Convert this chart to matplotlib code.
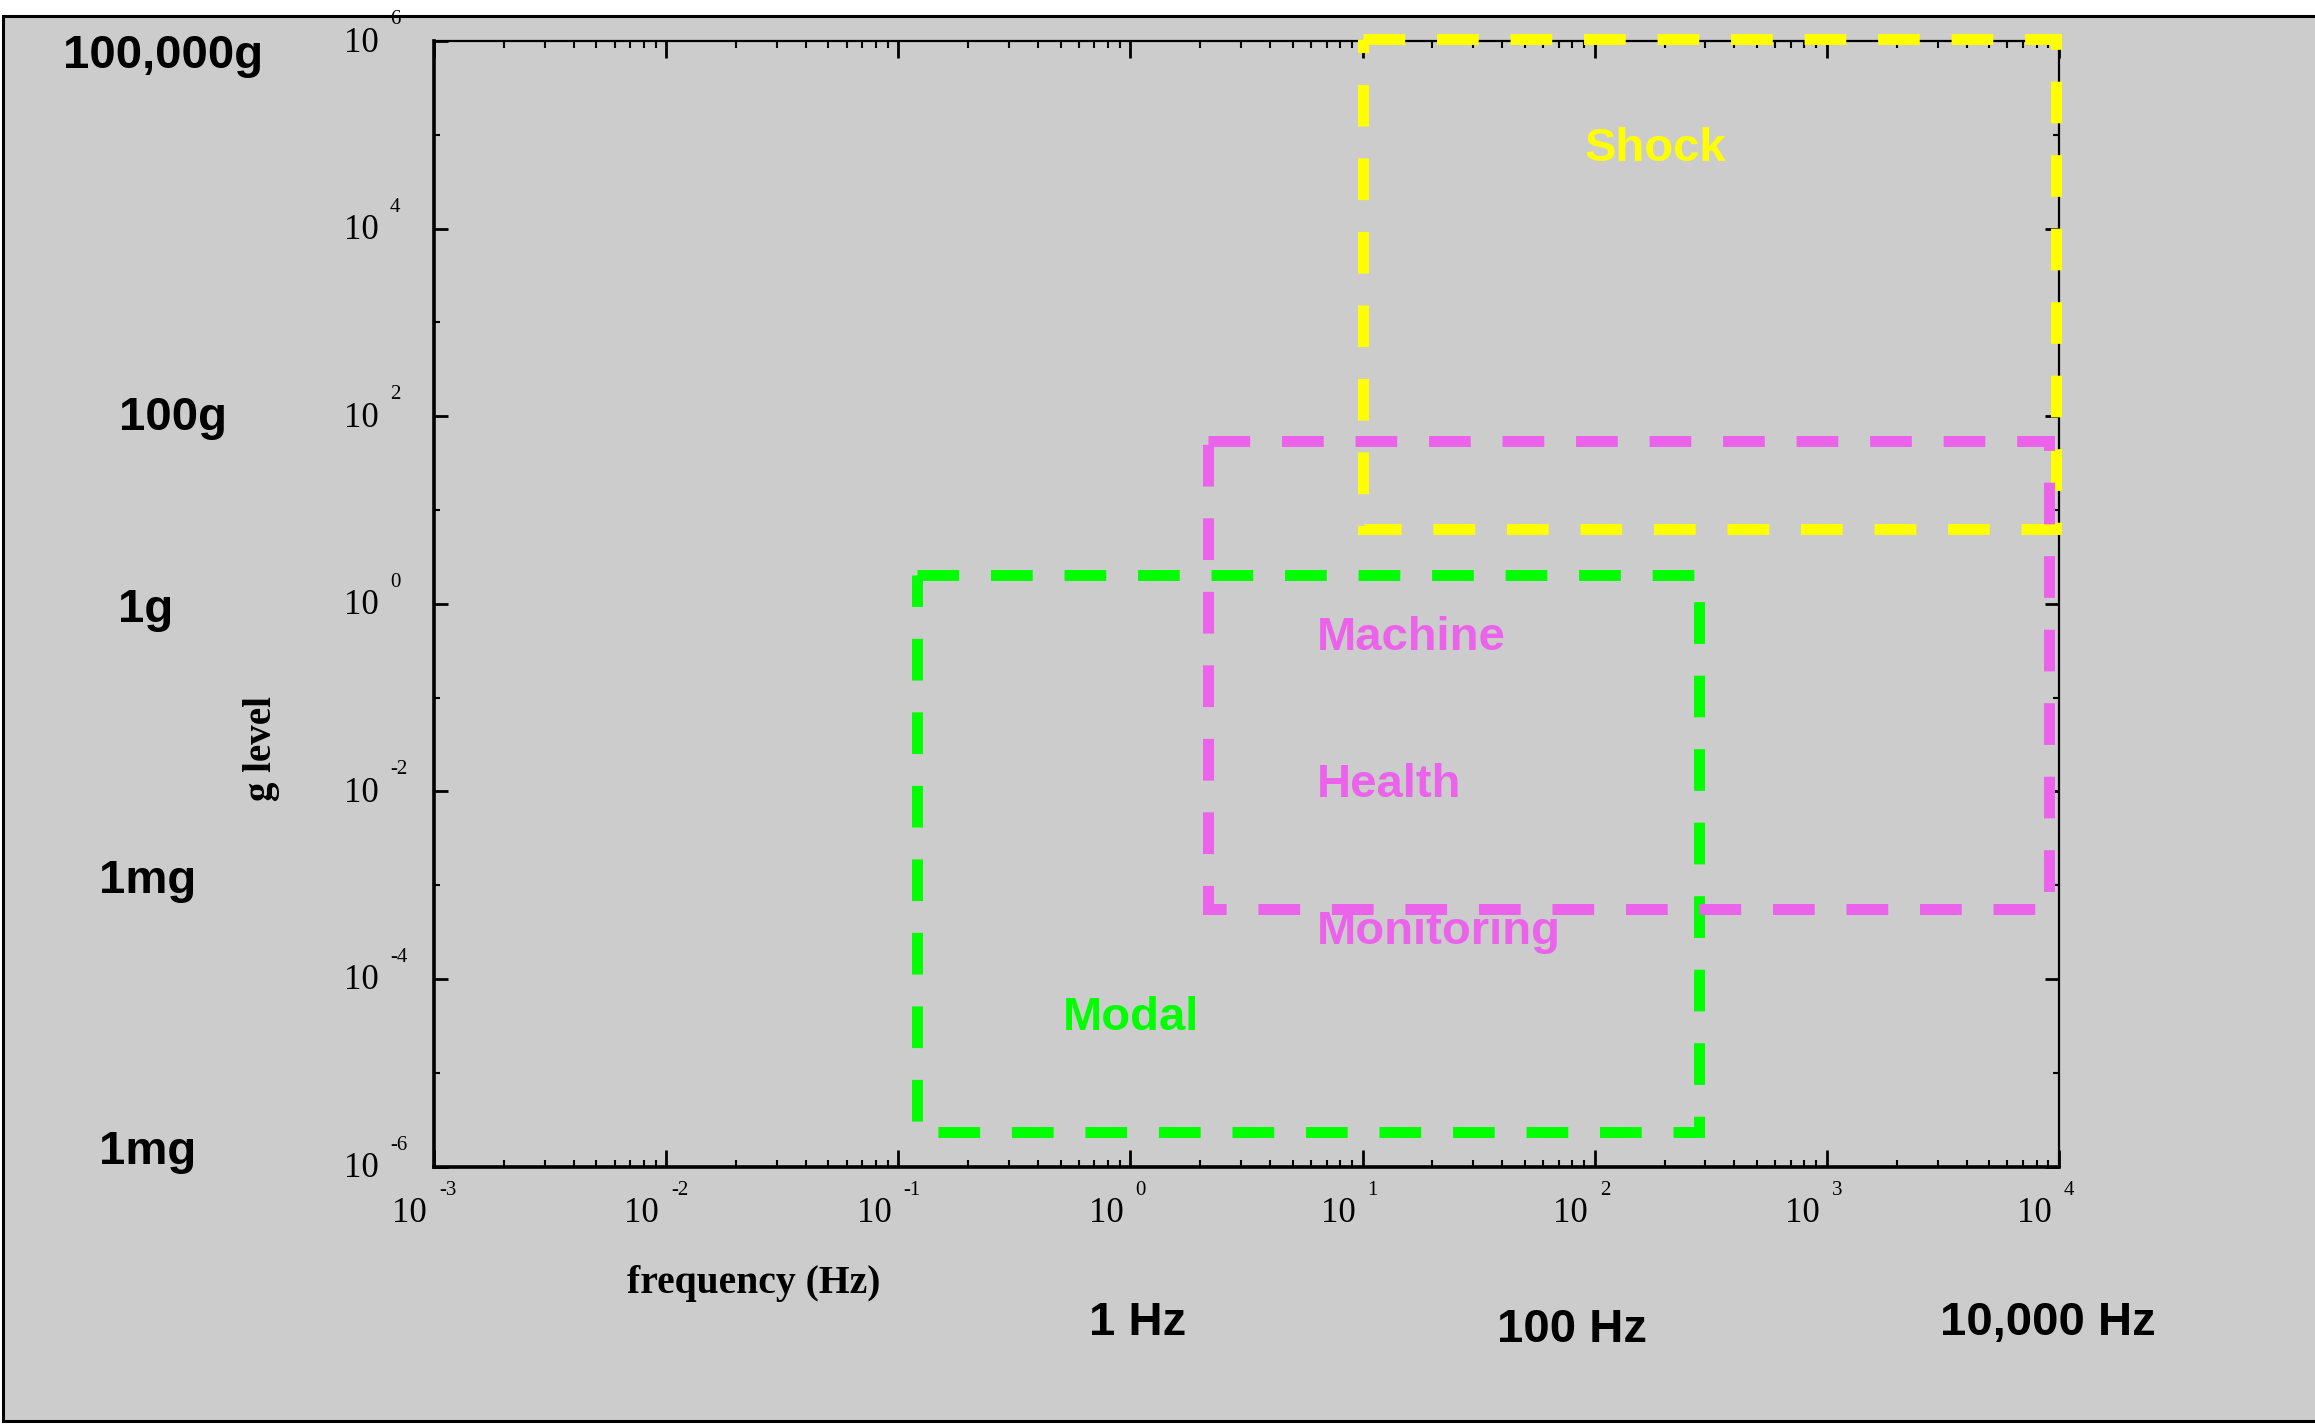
import matplotlib
matplotlib.use('Agg')
import matplotlib.pyplot as plt
import matplotlib.ticker as mticker
from matplotlib.patches import Rectangle
from matplotlib.transforms import Affine2D

W, H, DPI = 2315, 1426, 100
plt.rcParams['font.family'] = ['Liberation Serif', 'DejaVu Serif']

# ---------------- data ----------------
regions = ['Shock', 'Machine Health Monitoring', 'Modal']
freq_low = [10.0, 2.15, 0.12]
freq_high = [9660.0, 9060.0, 280.0]
g_low = [6.2, 5.6e-4, 2.36e-6]
g_high = [1.05e6, 55.0, 2.05]
region_colors = ['#FFFF00', '#EB62EB', '#00FF00']

x_exponents = [-3, -2, -1, 0, 1, 2, 3, 4]
y_exponents = [-6, -4, -2, 0, 2, 4, 6]
y_minor_exponents = [-5, -3, -1, 1, 3, 5]

g_labels = ['100,000g', '100g', '1g', '1mg', '1mg']
hz_labels = ['1 Hz', '100 Hz', '10,000 Hz']

# region text labels (text, x, y baseline in data coords, color)
region_texts = [('Shock', 90.8, 5.26e4, '#FFFF00'),
                ('Machine', 6.37, 0.321, '#EB62EB'),
                ('Health', 6.37, 8.7e-3, '#EB62EB'),
                ('Monitoring', 6.37, 2.36e-4, '#EB62EB'),
                ('Modal', 0.513, 2.85e-5, '#00FF00')]

# ---------------- figure ----------------
fig = plt.figure(figsize=(W / DPI, H / DPI), dpi=DPI, facecolor='white')
frame = Rectangle((3 / W, 5 / H), 1.2, (1421 - 16) / H, transform=fig.transFigure,
                  facecolor='#CCCCCC', edgecolor='black', linewidth=2.2, zorder=-5)
fig.patches.append(frame)

ax_l, ax_r, ax_t, ax_b = 434, 2059, 41, 1166.5
ax = fig.add_axes([ax_l / W, 1 - ax_b / H, (ax_r - ax_l) / W, (ax_b - ax_t) / H])
ax.set_facecolor('#CCCCCC')
ax.set_xscale('log')
ax.set_yscale('log')
ax.set_xlim(1e-3, 1e4)
ax.set_ylim(1e-6, 1e6)

# regions (yellow, green, then magenta on top)
order = [0, 2, 1]
for k, i in enumerate(order):
    xs = [freq_low[i], freq_high[i], freq_high[i], freq_low[i], freq_low[i]]
    ys = [g_high[i], g_high[i], g_low[i], g_low[i], g_high[i]]
    ax.plot(xs, ys, color=region_colors[i], linewidth=7.9, linestyle=(0, (3.8, 2.9)),
            solid_joinstyle='miter', dash_joinstyle='miter', dash_capstyle='butt',
            clip_on=False, zorder=3 + k)

# spines
for s in ['left', 'bottom']:
    ax.spines[s].set_linewidth(2.6)
for s in ['top', 'right']:
    ax.spines[s].set_linewidth(1.6)

# ticks
ax.set_xticks([10.0 ** e for e in x_exponents], labels=['10'] * len(x_exponents))
ax.xaxis.set_minor_locator(mticker.LogLocator(base=10, subs=range(2, 10), numticks=100))
ax.xaxis.set_minor_formatter(mticker.NullFormatter())
ax.set_yticks([10.0 ** e for e in y_exponents], labels=['10'] * len(y_exponents))
ax.yaxis.set_minor_locator(mticker.FixedLocator([10.0 ** e for e in y_minor_exponents]))
ax.yaxis.set_minor_formatter(mticker.NullFormatter())

ax.tick_params(axis='x', which='major', direction='in', length=12, width=2,
               pad=22, labelsize=25, top=True)
ax.tick_params(axis='x', which='minor', direction='in', length=5, width=1.5, top=True)
ax.tick_params(axis='y', which='major', direction='in', length=10, width=2,
               pad=40, labelsize=25, right=True)
ax.tick_params(axis='y', which='minor', direction='in', length=4, width=1.5, right=True)

for lab in ax.get_xticklabels():
    lab.set_ha('right')
    lab.set_transform(lab.get_transform() + Affine2D().translate(-7, 0))
for lab in ax.get_yticklabels():
    lab.set_transform(lab.get_transform() + Affine2D().translate(0, 2))

for e in x_exponents:
    ax.annotate(f'{e}', xy=(10.0 ** e, 0), xycoords=('data', 'axes fraction'),
                xytext=(5, -28.5), textcoords='offset pixels', ha='left', va='baseline',
                fontsize=15, annotation_clip=False)
for e in y_exponents:
    ax.annotate(f'{e}', xy=(0, 10.0 ** e), xycoords=('axes fraction', 'data'),
                xytext=(-44, 17), textcoords='offset pixels', ha='left', va='baseline',
                fontsize=15, annotation_clip=False)

# axis labels
ax.set_xlabel('frequency (Hz)', fontsize=28.5, fontweight='bold')
ax.xaxis.set_label_coords((754 - ax_l) / (ax_r - ax_l), -(1284 - ax_b) / (ax_b - ax_t))
ax.xaxis.label.set_va('center')
ax.set_ylabel('g level', fontsize=28, fontweight='bold')
ax.yaxis.set_label_coords(-(ax_l - 262) / (ax_r - ax_l), (ax_b - 749) / (ax_b - ax_t))
ax.yaxis.label.set_va('center')
ax.yaxis.label.set_ha('center')

# region texts
for txt, x, y, c in region_texts:
    ax.text(x, y, txt, color=c, fontsize=34, fontweight='bold',
            family=['Liberation Sans', 'DejaVu Sans'], ha='left', va='baseline', zorder=10)

# outside labels (left edge, baseline in pixels)
g_pos = [(63, 68), (119, 430), (118, 622), (99, 893), (99, 1164)]
for txt, (px, py) in zip(g_labels, g_pos):
    fig.text(px / W, 1 - py / H, txt, fontsize=34, fontweight='bold',
             family=['Liberation Sans', 'DejaVu Sans'], ha='left', va='baseline')
hz_pos = [(1089, 1335), (1497, 1342), (1940, 1335)]
for txt, (px, py) in zip(hz_labels, hz_pos):
    fig.text(px / W, 1 - py / H, txt, fontsize=34, fontweight='bold',
             family=['Liberation Sans', 'DejaVu Sans'], ha='left', va='baseline')

fig.savefig('out.png', dpi=DPI, facecolor='white')
